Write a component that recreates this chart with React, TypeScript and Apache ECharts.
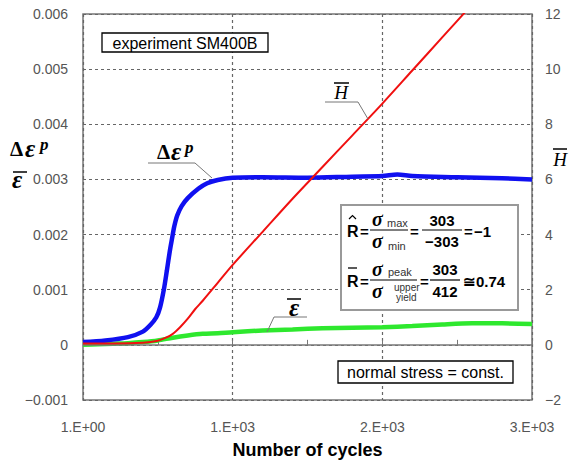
import React, { useEffect, useRef } from "react";
import * as echarts from "echarts";

// ---- data ----
const xTickLabels = ["1.E+00", "1.E+03", "2.E+03", "3.E+03"];

const blueCycles = [0, 150, 300, 400, 450, 490, 515, 540, 560, 580, 595, 610, 630, 660, 700, 770, 830, 900, 1000, 1200, 1500, 1800, 2000, 2100, 2200, 2500, 2800, 3000];
const blueValues = [0.00005, 0.00008, 0.00014, 0.00024, 0.00036, 0.0005, 0.00068, 0.001, 0.00134, 0.0017, 0.00193, 0.00215, 0.00235, 0.00252, 0.00266, 0.00283, 0.00293, 0.00299, 0.00303, 0.00304, 0.00303, 0.00305, 0.00306, 0.00309, 0.00306, 0.00304, 0.00302, 0.003];

const greenCycles = [0, 100, 200, 300, 400, 500, 600, 700, 800, 900, 1000, 1200, 1400, 1600, 1800, 2000, 2200, 2400, 2600, 2800, 3000];
const greenValues = [0.0, 0.00001, 0.00002, 0.00003, 0.00005, 0.00008, 0.00013, 0.00017, 0.0002, 0.00021, 0.00023, 0.00026, 0.00028, 0.0003, 0.00031, 0.00032, 0.00034, 0.00037, 0.00039, 0.00039, 0.00038];

const redCycles = [0, 200, 400, 500, 550, 600, 650, 700, 750, 800, 900, 1000, 1200, 1400, 1600, 1800, 2000, 2200, 2400, 2600];
const redValues = [0.05, 0.05, 0.08, 0.15, 0.25, 0.4, 0.65, 0.95, 1.3, 1.6, 2.25, 2.9, 4.1, 5.3, 6.45, 7.6, 8.75, 9.95, 11.15, 12.35];

const pairs = (xs: number[], ys: number[]) => xs.map((x, i) => [x, ys[i]]);

const SANS = "'Liberation Sans', Arial, sans-serif";
const SERIF = "'Liberation Serif', 'DejaVu Serif', serif";

function txt(x: number, y: number, text: string, font: string, align = "left", fill = "#000") {
  return {
    type: "text",
    z: 101,
    x,
    y,
    style: {
      text,
      font,
      fill,
      align,
      verticalAlign: "middle",
      textAlign: align,
      textVerticalAlign: "middle",
    },
  };
}
function ln(x1: number, y1: number, x2: number, y2: number, stroke = "#000", lineWidth = 1.2) {
  return { type: "line", z: 101, shape: { x1, y1, x2, y2 }, style: { stroke, lineWidth } };
}
function pl(points: number[][], stroke = "#777", lineWidth = 1) {
  return { type: "polyline", z: 101, shape: { points }, style: { stroke, lineWidth, fill: "none" } };
}
function box(x: number, y: number, width: number, height: number, stroke = "#000", lineWidth = 1.3) {
  return { type: "rect", z: 100, shape: { x, y, width, height }, style: { fill: "#fff", stroke, lineWidth } };
}

export default function App() {
  const ref = useRef<HTMLDivElement>(null);
  useEffect(() => {
    document.body.style.margin = "0";
    const chart = echarts.init(ref.current!, null, { renderer: "svg" });
    const sigF = `italic bold 20px ${SERIF}`;
    const numF = `bold 15px ${SANS}`;
    const subF = `11px ${SANS}`;
    const deltaF = `bold 21px ${SERIF}`;
    const epsF = `italic bold 25px ${SERIF}`;
    const supF = `italic bold 17px ${SERIF}`;
    const graphic: any[] = [
      // left axis name
      txt(10, 149, "Δ", deltaF),
      txt(25, 148, "ε", epsF),
      txt(40, 144, "p", supF),
      txt(12, 179, "ε", epsF),
      ln(13, 172, 27, 172, "#000", 1.5),
      // right axis name
      txt(560, 159, "H", `italic 19px ${SERIF}`, "center"),
      ln(553, 149, 567, 149, "#000", 1.5),
      // curve labels
      txt(157, 152, "Δ", deltaF),
      txt(171, 151, "ε", epsF),
      txt(185, 147, "p", supF),
      pl([[148, 163], [195, 163], [212, 178]]),
      txt(341, 92, "H", `italic 19px ${SERIF}`, "center"),
      ln(334, 83, 349, 83, "#000", 1.5),
      pl([[325, 102], [358, 102], [368, 119]]),
      txt(294, 307, "ε", epsF, "center"),
      ln(287, 299, 301, 299, "#000", 1.5),
      pl([[267, 332], [274, 317], [307, 317]]),
      // boxes
      box(102, 33, 166, 19),
      txt(185, 43, "experiment SM400B", `16px ${SANS}`, "center"),
      box(338, 361, 175, 22),
      txt(425.5, 372.5, "normal stress = const.", `16px ${SANS}`, "center"),
      box(341, 205, 177, 105, "#999", 2),
      // line 1
      txt(347, 231, "R", `bold 16px ${SANS}`),
      pl([[349, 219], [352.5, 215.5], [356, 219]], "#000", 1.2),
      txt(360, 231, "=", `bold 15px ${SANS}`),
      txt(372, 219, "σ", sigF),
      txt(387, 223, "max", subF, "left", "#333"),
      ln(370, 230, 408, 230),
      txt(372, 241, "σ", sigF),
      txt(388, 246, "min", subF, "left", "#333"),
      txt(410, 231, "=", `bold 15px ${SANS}`),
      txt(442, 220, "303", numF, "center"),
      ln(422, 230, 462, 230),
      txt(442, 241, "−303", numF, "center"),
      txt(464, 231, "=", `bold 15px ${SANS}`),
      txt(474, 231, "−1", numF),
      // line 2
      txt(347, 281, "R", `bold 16px ${SANS}`),
      ln(348, 268, 357, 268, "#000", 1.3),
      txt(360, 281, "=", `bold 15px ${SANS}`),
      txt(372, 269, "σ", sigF),
      txt(388, 272, "peak", subF, "left", "#333"),
      ln(370, 280, 417, 280),
      txt(372, 291, "σ", sigF),
      txt(394, 287, "upper", `10px ${SANS}`, "left", "#333"),
      txt(396, 297, "yield", `10px ${SANS}`, "left", "#333"),
      txt(420, 281, "=", `bold 15px ${SANS}`),
      txt(445, 269, "303", numF, "center"),
      ln(430, 280, 460, 280),
      txt(445, 291, "412", numF, "center"),
      txt(463, 281, "≅", `bold 15px ${SANS}`),
      txt(476, 281, "0.74", numF),
    ];

    const dotted = { color: "#666", type: [3, 3] as any, width: 1.2 };
    chart.setOption({
      animation: false,
      grid: { left: 83, right: 39, top: 14, bottom: 62, show: true, borderColor: "#777", borderWidth: 1.5, backgroundColor: "transparent" },
      xAxis: {
        type: "value",
        min: 0,
        max: 3000,
        interval: 1000,
        axisLine: { show: false },
        axisTick: { show: true, inside: true, length: 5, lineStyle: { color: "#777" } },
        minorTick: { show: true, splitNumber: 2, length: 5, lineStyle: { color: "#777" } },
        axisLabel: {
          color: "#555",
          fontSize: 14,
          fontFamily: SANS,
          margin: 20,
          formatter: (v: number) => xTickLabels[Math.round(v / 1000)] ?? "",
        },
        splitLine: { show: true, lineStyle: dotted },
        name: "Number of cycles",
        nameLocation: "middle",
        nameGap: 41,
        nameTextStyle: { color: "#000", fontSize: 18, fontWeight: "bold", fontFamily: SANS },
      },
      yAxis: [
        {
          type: "value",
          min: -0.001,
          max: 0.006,
          interval: 0.001,
          axisLine: { show: false },
          axisTick: { show: false },
          axisLabel: {
            color: "#555",
            fontSize: 14,
            fontFamily: SANS,
            margin: 15,
            formatter: (v: number) => (Math.abs(v) < 1e-9 ? "0" : v < 0 ? "−" + Math.abs(v).toFixed(3) : v.toFixed(3)),
          },
          splitLine: { show: true, lineStyle: dotted },
        },
        {
          type: "value",
          min: -2,
          max: 12,
          interval: 2,
          position: "right",
          axisLine: { show: false },
          axisTick: { show: false },
          axisLabel: {
            color: "#555",
            fontSize: 14,
            fontFamily: SANS,
            margin: 13,
            formatter: (v: number) => (v < 0 ? "−" + Math.abs(v) : String(v)),
          },
          splitLine: { show: false },
        },
      ],
      series: [
        {
          type: "line",
          name: "ε̄",
          yAxisIndex: 0,
          data: pairs(greenCycles, greenValues),
          showSymbol: false,
          smooth: 0.3,
          lineStyle: { color: "#2ee82e", width: 4.5 },
          markLine: {
            silent: true,
            symbol: "none",
            label: { show: false },
            lineStyle: { color: "#777", type: "solid", width: 1.5 },
            data: [{ yAxis: 0 }],
          },
          z: 3,
        },
        {
          type: "line",
          name: "Δεp",
          yAxisIndex: 0,
          data: pairs(blueCycles, blueValues),
          showSymbol: false,
          smooth: 0.3,
          lineStyle: { color: "#1010f0", width: 4.5 },
          z: 4,
        },
        {
          type: "line",
          name: "H̄",
          yAxisIndex: 1,
          data: pairs(redCycles, redValues),
          showSymbol: false,
          smooth: 0.3,
          lineStyle: { color: "#f01010", width: 2 },
          z: 5,
        },
      ],
      graphic,
    });
    return () => chart.dispose();
  }, []);
  return <div ref={ref} style={{ width: 571, height: 464 }} />;
}
